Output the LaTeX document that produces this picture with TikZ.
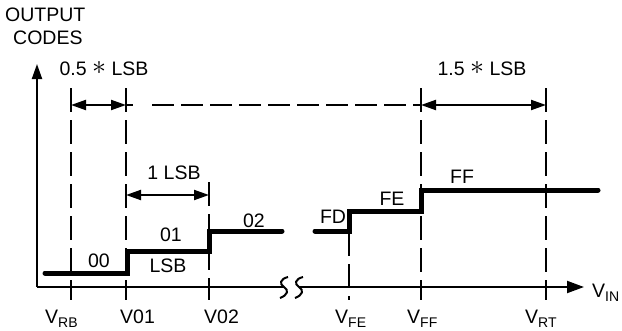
\documentclass[tikz,border=0pt]{standalone}
\usepackage{fontspec}
\setmainfont{Liberation Sans}
\usepackage{graphicx}
\usetikzlibrary{arrows.meta}
\newcommand{\subtxt}[1]{\raisebox{-4pt}{\fontsize{14}{14}\selectfont #1}}
\newcommand{\bigast}{\raisebox{0.5pt}{\scalebox{1.35}{$\ast$}}}
\begin{document}
\begin{tikzpicture}[x=1pt,y=-1pt,
  lbl/.style={font=\fontsize{19.5}{20}\selectfont, inner sep=0pt},
  axisline/.style={line width=2pt},
  stair/.style={line width=5pt, line cap=round},
  vdash/.style={line width=2pt, dash pattern=on 24pt off 8pt},
  hdash/.style={line width=2pt, dash pattern=on 22pt off 7pt},
  tickline/.style={line width=2pt},
  dimarrow/.style={line width=2pt, {Triangle[length=15pt,width=10pt]}-{Triangle[length=15pt,width=10pt]}},
  brk/.style={line width=2pt}]
\useasboundingbox (0,0) rectangle (622,330);
\clip (0,0) rectangle (622,330);

% axes
\coordinate (O) at (37,287);
\coordinate (ytip) at (37,64);
\coordinate (xa) at (284,287);
\coordinate (xb) at (299,287);
\coordinate (xtip) at (584,287);
\draw[axisline, -{Triangle[length=15pt,width=10pt]}] (O) -- (ytip);
\draw[axisline] (O) -- (xa);
\draw[axisline, -{Triangle[length=17pt,width=12pt]}] (xb) -- (xtip);
% break marks
\draw[brk] (288,277) .. controls (280,279) and (279,284) .. (284,287) .. controls (289,290) and (288,295) .. (280,298);
\draw[brk] (303,277) .. controls (295,279) and (294,284) .. (299,287) .. controls (304,290) and (303,295) .. (295,298);

% vertical dashed guides
\coordinate (rbT) at (71,88);   \coordinate (rbB) at (71,300);
\coordinate (v1T) at (126,88);  \coordinate (v1B) at (126,300);
\coordinate (v2T) at (209,182); \coordinate (v2B) at (209,300);
\coordinate (feT) at (349,232); \coordinate (feB) at (349,300);
\coordinate (ffT) at (421,88);  \coordinate (ffB) at (421,300);
\coordinate (rtT) at (546,88);  \coordinate (rtB) at (546,300);
\draw[vdash] (rbT) -- (rbB);
\draw[vdash] (v1T) -- (v1B);
\draw[vdash] (v2T) -- (v2B);
\draw[vdash] (feT) -- (feB);
\draw[vdash] (ffT) -- (ffB);
\draw[vdash] (rtT) -- (rtB);

% horizontal dimension line
\coordinate (h0) at (71,105);
\coordinate (h1) at (126,105);
\coordinate (h1s) at (133,105);
\coordinate (h1d) at (152,105);
\coordinate (h2) at (421,105);
\coordinate (h3) at (546,105);
\draw[dimarrow] (h0) -- (h1);
\draw[tickline] (h1) -- (h1s);
\draw[hdash] (h1d) -- (h2);
\draw[dimarrow] (h2) -- (h3);
\coordinate (l0) at (126,195);
\coordinate (l1) at (209,195);
\draw[dimarrow] (l0) -- (l1);

% staircase
\draw[stair] (45,273) -- (127,273) -- (127,251) -- (209,251) -- (209,231) -- (282,231);
\draw[stair] (315,231) -- (349,231) -- (349,211) -- (421,211) -- (421,190) -- (598,190);

% labels
\node[lbl, anchor=base west] (outp) at (5,21) {OUTPUT};
\node[lbl, anchor=base west] (codes) at (13,44) {CODES};
\node[lbl, anchor=base] (half) at (104,75) {0.5 \bigast{} LSB};
\node[lbl, anchor=base] (onehalf) at (482,75) {1.5 \bigast{} LSB};
\node[lbl, anchor=base] (onelsb) at (174,179) {1 LSB};
\node[lbl, anchor=base] (c00) at (99,267) {00};
\node[lbl, anchor=base] (c01) at (171,241) {01};
\node[lbl, anchor=base] (lsb) at (168,272) {LSB};
\node[lbl, anchor=base] (c02) at (254,227) {02};
\node[lbl, anchor=base] (cfd) at (333,223) {FD};
\node[lbl, anchor=base] (cfe) at (392,205) {FE};
\node[lbl, anchor=base] (cff) at (462,183) {FF};

\node[lbl, anchor=base west] (vrb) at (45,323) {V\subtxt{RB}};
\node[lbl, anchor=base west] (v01) at (120,323) {V01};
\node[lbl, anchor=base west] (v02) at (204,323) {V02};
\node[lbl, anchor=base west] (vfe) at (335,323) {V\subtxt{FE}};
\node[lbl, anchor=base west] (vff) at (407,323) {V\subtxt{FF}};
\node[lbl, anchor=base west] (vrt) at (525,323) {V\subtxt{RT}};
\node[lbl, anchor=base west] (vin) at (592,297) {V\subtxt{IN}};
\end{tikzpicture}
\end{document}
